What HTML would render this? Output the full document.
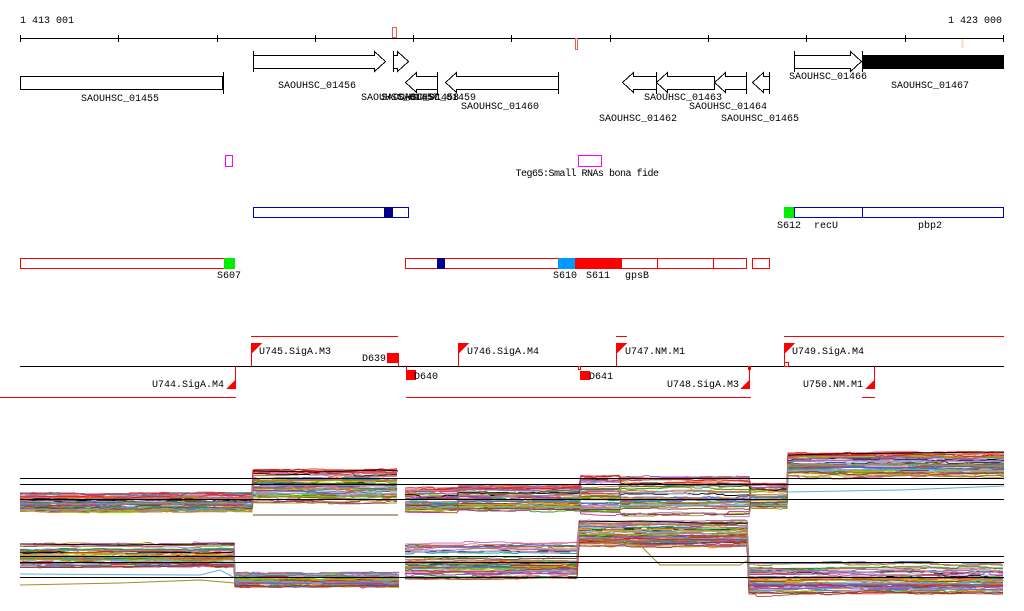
<!DOCTYPE html>
<html><head><meta charset="utf-8">
<style>
html,body{margin:0;padding:0;background:#fff;}
svg{display:block;}
text{font-family:"Liberation Mono","DejaVu Sans Mono",monospace;font-size:10px;fill:#000;}
</style></head>
<body>
<svg id="s" width="1024" height="611" viewBox="0 0 1024 611" xmlns="http://www.w3.org/2000/svg">
<text x="20" y="23">1 413 001</text>
<text x="1002" y="23" text-anchor="end">1 423 000</text>
<g stroke="#000" stroke-width="1" fill="none" shape-rendering="crispEdges">
<line x1="20" y1="38.5" x2="1004" y2="38.5"/>
<path d="M20.5 35v7M118.5 35v7M217.5 35v7M315.5 35v7M413.5 35v7M511.5 35v7M610.5 35v7M708.5 35v7M806.5 35v7M905.5 35v7M1003.5 35v7"/>
</g>
<rect x="392.5" y="27.5" width="4" height="10" fill="none" stroke="#f06040"/>
<rect x="575.5" y="38.5" width="2" height="11" fill="none" stroke="#f06040"/>
<line x1="962.5" y1="39" x2="962.5" y2="48" stroke="#f8d8c8" stroke-width="2"/>

<g stroke="#000" fill="#fff" stroke-width="1" shape-rendering="crispEdges">
<rect x="20.5" y="76.5" width="202" height="13"/>
<line x1="223.5" y1="72" x2="223.5" y2="94"/>
<line x1="253.5" y1="51" x2="253.5" y2="72"/>
<path d="M253.5 55.5H374.5V51.5L385.5 61.5L374.5 71.5V68.5H253.5Z"/>
<line x1="393.5" y1="51" x2="393.5" y2="72"/>
<path d="M393.5 55.5H397.5V51.5L408.5 61.5L397.5 71.5V68.5H393.5Z"/>
<line x1="437.5" y1="72" x2="437.5" y2="94"/>
<path d="M437.5 76.5H416.5V72.5L405.5 82.5L416.5 92.5V89.5H437.5Z"/>
<line x1="558.5" y1="72" x2="558.5" y2="94"/>
<path d="M558.5 76.5H456.5V72.5L445.5 82.5L456.5 92.5V89.5H558.5Z"/>
<path d="M656.5 76.5H633.5V72.5L622.5 82.5L633.5 92.5V89.5H656.5Z"/>
<line x1="656.5" y1="72" x2="656.5" y2="94"/>
<path d="M714.5 76.5H667.5V72.5L656.5 82.5L667.5 92.5V89.5H714.5Z"/>
<line x1="746.5" y1="72" x2="746.5" y2="94"/>
<path d="M746.5 76.5H725.5V72.5L714.5 82.5L725.5 92.5V89.5H746.5Z"/>
<line x1="769.5" y1="72" x2="769.5" y2="94"/>
<path d="M769.5 76.5H763.5V72.5L752.5 82.5L763.5 92.5V89.5H769.5Z"/>
<line x1="794.5" y1="51" x2="794.5" y2="72"/>
<path d="M794.5 55.5H850.5V51.5L861.5 61.5L850.5 71.5V68.5H794.5Z"/>
<line x1="862.5" y1="51" x2="862.5" y2="72"/>
</g>
<rect x="862" y="55" width="142" height="14" fill="#000"/>
<text x="120" y="101" text-anchor="middle">SAOUHSC_01455</text>
<text x="317" y="88" text-anchor="middle">SAOUHSC_01456</text>
<text x="361" y="100">SAOUHSC_01457</text>
<text x="381" y="100">SAOUHSC_01458</text>
<text x="398" y="100">SAOUHSC_01459</text>
<text x="500" y="109" text-anchor="middle">SAOUHSC_01460</text>
<text x="638" y="121" text-anchor="middle">SAOUHSC_01462</text>
<text x="683" y="100" text-anchor="middle">SAOUHSC_01463</text>
<text x="728" y="109" text-anchor="middle">SAOUHSC_01464</text>
<text x="760" y="121" text-anchor="middle">SAOUHSC_01465</text>
<text x="828" y="79" text-anchor="middle">SAOUHSC_01466</text>
<text x="930" y="88" text-anchor="middle">SAOUHSC_01467</text>

<g fill="none" stroke="#f0f" shape-rendering="crispEdges">
<rect x="225.5" y="155.5" width="7" height="11"/>
<rect x="578.5" y="155.5" width="23" height="11"/>
</g>
<text x="587" y="176" text-anchor="middle" style="font-size:10px;letter-spacing:-0.5px">Teg65:Small RNAs bona fide</text>

<g shape-rendering="crispEdges">
<rect x="253.5" y="207.5" width="155" height="10" fill="none" stroke="#00c"/>
<rect x="384" y="207" width="9" height="11" fill="#008"/>
<rect x="784" y="207" width="10" height="11" fill="#0e0"/>
<rect x="794.5" y="207.5" width="209" height="10" fill="none" stroke="#00c"/>
<line x1="862.5" y1="207" x2="862.5" y2="218" stroke="#00c"/>
</g>
<text x="789" y="228" text-anchor="middle">S612</text>
<text x="826" y="228" text-anchor="middle">recU</text>
<text x="930" y="228" text-anchor="middle">pbp2</text>

<g shape-rendering="crispEdges" stroke="#f00" fill="none">
<rect x="20.5" y="258.5" width="204" height="10"/>
<rect x="405.5" y="258.5" width="341" height="10"/>
<line x1="657.5" y1="258" x2="657.5" y2="269"/>
<line x1="713.5" y1="258" x2="713.5" y2="269"/>
<rect x="752.5" y="258.5" width="17" height="10"/>
</g>
<g shape-rendering="crispEdges">
<rect x="224" y="258" width="11" height="11" fill="#0e0"/>
<rect x="437" y="258" width="8" height="11" fill="#008"/>
<rect x="558" y="258" width="17" height="11" fill="#09f"/>
<rect x="575" y="258" width="47" height="11" fill="#f00"/>
</g>
<text x="229" y="278" text-anchor="middle">S607</text>
<text x="565" y="278" text-anchor="middle">S610</text>
<text x="598" y="278" text-anchor="middle">S611</text>
<text x="637" y="278" text-anchor="middle">gpsB</text>

<g shape-rendering="crispEdges">
<line x1="20" y1="366.5" x2="1004" y2="366.5" stroke="#000"/>
<g stroke="#f00" fill="none">
<line x1="251" y1="336.5" x2="398" y2="336.5"/>
<line x1="616" y1="336.5" x2="627" y2="336.5"/>
<line x1="784" y1="336.5" x2="1004" y2="336.5"/>
<line x1="0" y1="397.5" x2="236" y2="397.5"/>
<line x1="406" y1="397.5" x2="751" y2="397.5"/>
<line x1="862" y1="397.5" x2="875" y2="397.5"/>
<line x1="235.5" y1="366" x2="235.5" y2="389"/>
<line x1="251.5" y1="343" x2="251.5" y2="366"/>
<line x1="398.5" y1="353" x2="398.5" y2="366"/>
<line x1="406.5" y1="366" x2="406.5" y2="376"/>
<line x1="458.5" y1="343" x2="458.5" y2="366"/>
<line x1="616.5" y1="343" x2="616.5" y2="366"/>
<line x1="749.5" y1="366" x2="749.5" y2="389"/>
<line x1="784.5" y1="343" x2="784.5" y2="366"/>
<line x1="874.5" y1="366" x2="874.5" y2="389"/>
<rect x="578.5" y="366.5" width="2" height="3"/>
<rect x="748.5" y="366.5" width="2" height="3"/>
<rect x="784.5" y="362.5" width="4" height="4"/>
</g>
<g fill="#f00">
<path d="M252 343H262L252 353Z"/>
<path d="M459 343H469L459 353Z"/>
<path d="M617 343H627L617 353Z"/>
<path d="M785 343H795L785 353Z"/>
<path d="M236 379V389H226Z"/>
<path d="M750 379V389H740Z"/>
<path d="M875 379V389H865Z"/>
<rect x="387" y="353" width="11" height="10"/>
<rect x="406" y="370" width="10" height="10"/>
<rect x="580" y="371" width="10" height="9"/>
</g>
</g>
<text x="259" y="354">U745.SigA.M3</text>
<text x="386" y="361" text-anchor="end">D639</text>
<text x="414" y="379">D640</text>
<text x="467" y="354">U746.SigA.M4</text>
<text x="589" y="379">D641</text>
<text x="625" y="354">U747.NM.M1</text>
<text x="792" y="354">U749.SigA.M4</text>
<text x="224" y="387" text-anchor="end">U744.SigA.M4</text>
<text x="739" y="387" text-anchor="end">U748.SigA.M3</text>
<text x="863" y="387" text-anchor="end">U750.NM.M1</text>

<g id="plots"></g>
<g stroke="#000" stroke-width="1.3" shape-rendering="crispEdges">
<line x1="20" y1="478.5" x2="1004" y2="478.5"/>
<line x1="20" y1="484.5" x2="1004" y2="484.5"/>
<line x1="20" y1="499.5" x2="1004" y2="499.5"/>
<line x1="20" y1="556.5" x2="1004" y2="556.5"/>
<line x1="20" y1="562.5" x2="1004" y2="562.5"/>
<line x1="20" y1="577.5" x2="1004" y2="577.5"/>
</g>
</svg>
<script>
(function(){
var seed=12345;function r(){seed=(seed*16807)%2147483647;return (seed-1)/2147483646;}
var cols=["#e06020","#80c000","#c03090","#a09020","#4070e0","#60b0e0","#8060c0","#804020","#e02020","#909090","#000000","#20a020","#d08040","#c060c0","#a0a0e0","#e0a000","#606000","#f07070","#00a0a0","#b04040"];
var g=document.getElementById("plots");var ns="http://www.w3.org/2000/svg";
function plot(parts,N){
 for(var i=0;i<N;i++){
  var f=Math.pow(r(),0.9);var c=cols[i%cols.length];var w=(i%7==0)?1.1:0.9;
  for(var p=0;p<parts.length;p++){
   var grp=parts[p];var pts=[];
   for(var s=0;s<grp.length;s++){
    var sg=grp[s];var ff=Math.min(1,Math.max(0,f+(r()-0.5)*0.3));
    var base=sg[2]+ff*(sg[3]-sg[2]);var y=base;
    for(var x=sg[0];x<=sg[1];x+=2){
      if(r()<0.25){y+=(r()-0.5)*1.6+(base-y)*0.2;}
      if(r()<0.01)y+=(r()-0.5)*5;
      pts.push(x.toFixed(0)+","+y.toFixed(1));
    }
   }
   var pl=document.createElementNS(ns,"polyline");
   pl.setAttribute("points",pts.join(" "));pl.setAttribute("fill","none");
   pl.setAttribute("stroke",c);pl.setAttribute("stroke-width",w);
   g.appendChild(pl);
  }
 }
}
plot([[[20,253,493,512],[253,398,470,502]],[[405,458,488,512],[459,580,484,510],[581,620,476,514],[621,750,476,514],[751,787,484,508],[788,1004,453,476]]],50);
plot([[[20,235,544,567],[235,400,573,587]],[[405,578,544,578],[579,748,521,546],[749,1004,563,594]]],50);
function pl(pts,c){var e=document.createElementNS(ns,"polyline");e.setAttribute("points",pts);e.setAttribute("fill","none");e.setAttribute("stroke",c);g.appendChild(e);}
pl("788,492 900,490 1004,486","#60b0e0");
pl("20,585 120,583 200,580 235,583","#a09020");
pl("20,574 200,575 220,570 235,578","#60b0e0");
pl("253,515 398,515","#804020");
pl("579,538 640,545 660,565 740,565 748,560","#a09020");
pl("253,471 320,472 380,470 398,471","#000");
pl("788,455 900,453 1004,452","#000");
pl("579,522 640,521 700,523 748,523","#000");
pl("20,544 120,545 200,544 235,544","#000");
})();
</script>
</body></html>
